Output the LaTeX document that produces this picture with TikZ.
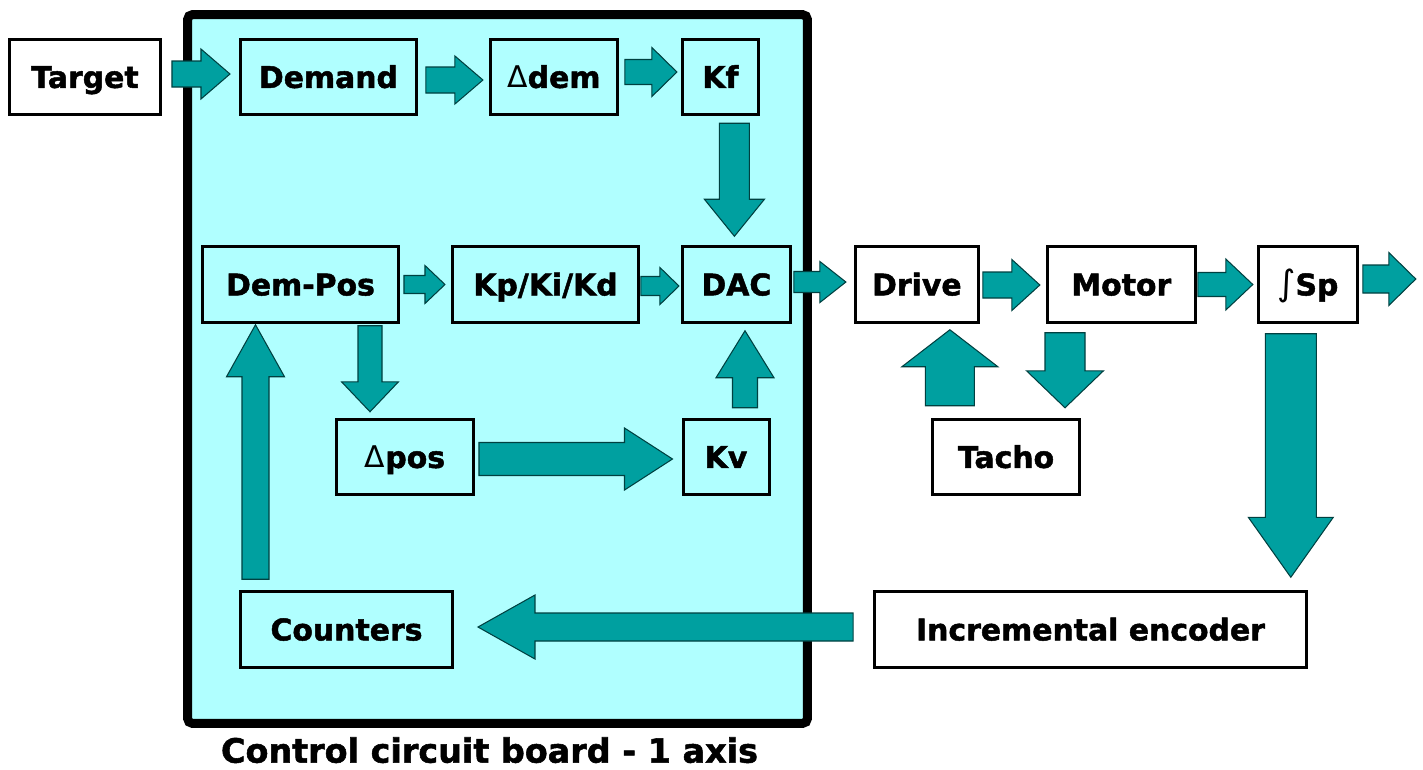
\documentclass[tikz,border=0pt]{standalone}
\usepackage{fontspec}
\setmainfont{DejaVu Sans}[BoldFeatures={FakeBold=1.6}]
\usepackage{tikz}
\usetikzlibrary{positioning,calc}

\definecolor{boardcyan}{RGB}{176,255,255}
\definecolor{arrowfill}{RGB}{0,160,160}
\definecolor{arrowedge}{RGB}{0,64,64}

% block arrow: tail, tip, half shaft, half head, head length
\newcommand{\fatarrow}[5]{%
  \coordinate (arrtail) at (#1);
  \coordinate (arrtip) at (#2);
  \coordinate (arrbase) at ($(arrtip)!#5!(arrtail)$);
  \draw[flow] ($(arrtail)!#3!90:(arrtip)$) -- ($(arrbase)!#3!90:(arrtip)$)
    -- ($(arrbase)!#4!90:(arrtip)$) -- (arrtip)
    -- ($(arrbase)!#4!-90:(arrtip)$) -- ($(arrbase)!#3!-90:(arrtip)$)
    -- ($(arrtail)!#3!-90:(arrtip)$) -- cycle;
}

\begin{document}
\begin{tikzpicture}[
  x=0.02cm, y=-0.02cm,
  box/.style={draw, line width=0.06cm, minimum height=1.51cm, inner sep=0pt,
    text height=12.4pt, text depth=0pt,
    font=\bfseries\fontsize{17}{17}\selectfont},
  board/.style={draw, line width=0.18cm, fill=boardcyan, rounded corners=0.1cm,
    minimum width=12.4cm, minimum height=14.18cm},
  boardtitle/.style={inner sep=0pt, text height=13.85pt, text depth=0pt,
    font=\bfseries\fontsize{19}{19}\selectfont},
  flow/.style={fill=arrowfill, draw=arrowedge, line width=0.6pt, line join=miter},
]
\useasboundingbox (0,0) rectangle (1423,769);

\node[board] (board) at (497.5,369) {};
\node[boardtitle, below=0.2cm of board, xshift=-0.16cm] (boardname) {Control circuit board - 1 axis};

\node[box, minimum width=3.02cm] (target) at (85,77) {Target};
\node[box, minimum width=3.52cm, right=1.54cm of target] (demand) {Demand};
\node[box, minimum width=2.54cm, right=1.42cm of demand] (ddem) {{\mdseries Δ}dem};
\node[box, minimum width=1.52cm, right=1.24cm of ddem] (kf) {Kf};

\node[box, minimum width=3.92cm] (dempos) at (300.5,284.5) {Dem-Pos};
\node[box, minimum width=3.72cm, right=1.02cm of dempos] (kp) {Kp/Ki/Kd};
\node[box, minimum width=2.16cm, right=0.82cm of kp] (dac) {DAC};
\node[box, minimum width=2.46cm, right=1.24cm of dac] (drive) {Drive};
\node[box, minimum width=2.96cm, right=1.32cm of drive] (motor) {Motor};
\node[box, minimum width=1.98cm, right=1.2cm of motor] (isp) {{\mdseries\fontsize{20}{20}\selectfont ∫}Sp};

\node[box, minimum width=2.74cm] (dpos) at (405,457) {{\mdseries Δ}pos};
\node[box, minimum width=1.72cm] (kv) at (726,457) {Kv};
\node[box, minimum width=2.94cm] (tacho) at (1006,457) {Tacho};

\node[box, minimum width=4.24cm] (counters) at (346.5,629.5) {Counters};
\node[box, minimum width=8.64cm] (encoder) at (1090.5,629.5) {Incremental encoder};

\coordinate (spout) at ($(isp.east)+(57,-5.5)$);

\fatarrow{$(target.east)+(10,-3)$}{$(demand.west)+(-9,-3)$}{0.26cm}{0.5cm}{0.58cm}
\fatarrow{$(demand.east)+(8,3)$}{$(ddem.west)+(-6,3)$}{0.26cm}{0.48cm}{0.56cm}
\fatarrow{$(ddem.east)+(6,-5)$}{$(kf.west)+(-4,-5)$}{0.25cm}{0.49cm}{0.5cm}
\fatarrow{$(kf.south -| dac.north)+(-2,7)$}{$(dac.north)+(-2,-9)$}{0.3cm}{0.6cm}{0.74cm}
\fatarrow{$(dempos.east)+(4,0)$}{$(kp.west)+(-6,0)$}{0.18cm}{0.38cm}{0.4cm}
\fatarrow{$(kp.east)+(1,1.5)$}{$(dac.west)+(-2,1.5)$}{0.19cm}{0.37cm}{0.38cm}
\fatarrow{$(dac.east)+(2,-2.5)$}{$(drive.west)+(-8,-2.5)$}{0.21cm}{0.41cm}{0.52cm}
\fatarrow{$(drive.east)+(3,0.5)$}{$(motor.west)+(-6,0.5)$}{0.26cm}{0.51cm}{0.56cm}
\fatarrow{$(motor.east)+(1,0)$}{$(isp.west)+(-4,0)$}{0.24cm}{0.51cm}{0.54cm}
\fatarrow{$(isp.east)+(4,-5.5)$}{spout}{0.28cm}{0.53cm}{0.54cm}

\fatarrow{$(dempos.south -| dpos.north)+(-35,2)$}{$(dpos.north)+(-35,-6)$}{0.24cm}{0.57cm}{0.6cm}
\fatarrow{$(dpos.east)+(4,2)$}{$(kv.west)+(-9,2)$}{0.33cm}{0.62cm}{0.96cm}
\fatarrow{$(kv.north)+(19,-10)$}{$(dac.south -| kv.north)+(19,7)$}{0.25cm}{0.58cm}{0.94cm}
\fatarrow{$(tacho.north -| drive.south)+(33,-12)$}{$(drive.south)+(33,6)$}{0.49cm}{0.96cm}{0.74cm}
\fatarrow{$(motor.south -| tacho.north)+(59,9)$}{$(tacho.north)+(59,-10)$}{0.4cm}{0.77cm}{0.74cm}

\fatarrow{$(isp.south)+(-17,10)$}{$(encoder.north -| isp.south)+(-17,-13)$}{0.51cm}{0.85cm}{1.2cm}
\fatarrow{$(encoder.west)+(-20,-2.5)$}{$(counters.east)+(24,-2.5)$}{0.28cm}{0.64cm}{1.14cm}
\fatarrow{$(counters.north -| dempos.south)+(-45,-11)$}{$(dempos.south)+(-45,1)$}{0.27cm}{0.58cm}{1.04cm}
\end{tikzpicture}
\end{document}
